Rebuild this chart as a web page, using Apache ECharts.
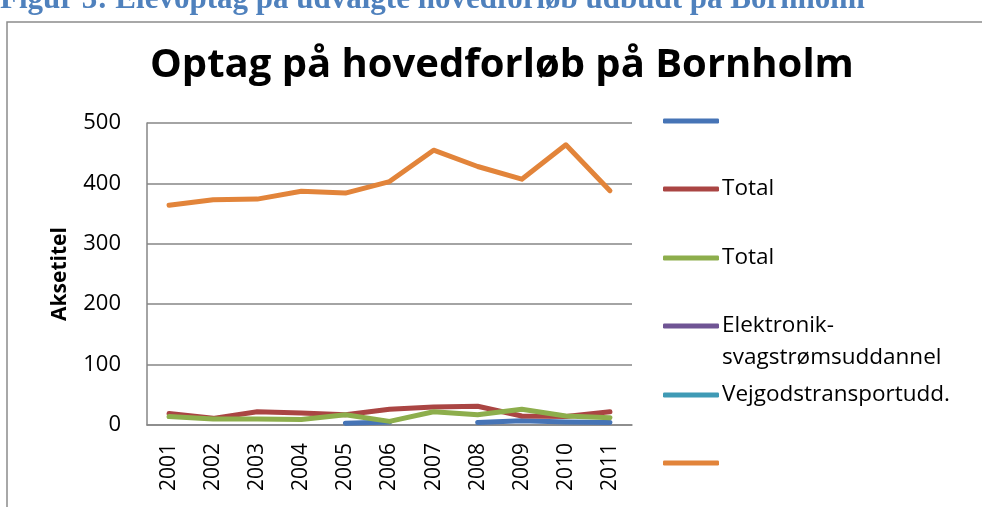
<!DOCTYPE html>
<html>
<head>
<meta charset="utf-8">
<script src="https://cdn.jsdelivr.net/npm/echarts@6/dist/echarts.min.js"></script>
<style>
  html, body { margin: 0; padding: 0; background: #fff; }
  #main { width: 982px; height: 507px; }
</style>
</head>
<body>
<div id="main"></div>
<script>
// data
const years = ['2001', '2002', '2003', '2004', '2005', '2006', '2007', '2008', '2009', '2010', '2011']
const blueVals = [null, null, null, null, 3, 5, null, 4, 7, 5, 4]
const redVals = [19, 11, 22, 20, 17, 26, 30, 31, 15, 14, 22]
const greenVals = [14, 10, 10, 9, 17, 6, 22, 17, 26, 15, 12]
const purpleVals = [null, null, null, null, null, null, null, null, null, null, null]
const tealVals = [null, null, null, null, null, null, null, null, null, null, null]
const orangeVals = [364, 373, 374, 387, 384, 403, 455, 428, 407, 464, 388]
const yTicks = [0, 100, 200, 300, 400, 500]

// names must be unique for the legends, so zero-width spaces tell them apart
const names = ['\u200b', 'Total', 'Total\u200b', 'Elektronik-\nsvagstrømsuddannel', 'Vejgodstransportudd.', '\u200b\u200b']
const colors = ['#4674b6', '#aa4543', '#8dae4c', '#6f5494', '#3f9ab5', '#e2843a']
const vals = [blueVals, redVals, greenVals, purpleVals, tealVals, orangeVals]
const legendY = [121, 189, 258, 326, 395, 463]

const font = '"Open Sans"'
var chart = echarts.init(document.getElementById('main'))

let series = []
let legends = []
for (let i = 0; i < names.length; i++) {
  series.push({
    name: names[i],
    type: 'line',
    data: vals[i],
    symbol: 'none',
    z: i == 5 ? 3 : 2,
    lineStyle: { color: colors[i], width: 5, cap: 'round', join: 'round' },
    itemStyle: { color: colors[i] }
  })
  let multi = names[i].indexOf('\n') >= 0
  legends.push({
    data: [names[i]],
    left: 663,
    top: multi ? legendY[i] - 48 : legendY[i] - 15,
    padding: 0,
    icon: 'roundRect',
    itemWidth: 56,
    itemHeight: 5,
    itemGap: 0,
    selectedMode: false,
    // blank first line so that the icon sits beside the first real line
    formatter: multi ? function (n) { return ' \n' + n } : '{name}',
    textStyle: {
      fontFamily: font,
      fontSize: 22.5,
      color: '#000',
      lineHeight: multi ? 32 : 30,
      padding: [0, 0, 0, -2]
    }
  })
}

chart.setOption({
  animation: false,
  title: {
    text: 'Optag på hovedforløb på Bornholm',
    left: 145,
    top: 41,
    textStyle: { fontFamily: font, fontWeight: 'bold', fontSize: 40, color: '#000' }
  },
  legend: legends,
  grid: { left: 147, right: 350, top: 123, bottom: 82 },
  xAxis: {
    type: 'category',
    data: years,
    boundaryGap: true,
    axisLine: { lineStyle: { color: '#868686', width: 1.5 } },
    axisTick: { show: false },
    axisLabel: { rotate: 90, margin: 18, fontFamily: font, fontSize: 21, color: '#000', interval: 0 }
  },
  yAxis: {
    type: 'value',
    min: yTicks[0],
    max: yTicks[yTicks.length - 1],
    interval: 100,
    name: 'Aksetitel',
    nameLocation: 'middle',
    nameGap: 76,
    nameRotate: 90,
    nameTextStyle: { fontFamily: font, fontWeight: 'bold', fontSize: 21, color: '#000' },
    axisLine: { show: true, lineStyle: { color: '#868686', width: 1.5 } },
    axisTick: { show: false },
    axisLabel: { margin: 26, fontFamily: font, fontSize: 22, color: '#000' },
    splitLine: { lineStyle: { color: '#868686', width: 1.5 } }
  },
  graphic: [
    {
      type: 'rect',
      shape: { x: 7, y: 22, width: 1100, height: 700 },
      style: { fill: 'none', stroke: '#8c8c8c', lineWidth: 1.5 },
      silent: true
    },
    {
      type: 'text',
      left: 0,
      top: -16,
      style: {
        text: 'Figur 3: Elevoptag på udvalgte hovedforløb udbudt på Bornholm',
        font: 'bold 31px "Liberation Serif"',
        fill: '#4f81bd'
      }
    }
  ],
  series: series
})
</script>
</body>
</html>
